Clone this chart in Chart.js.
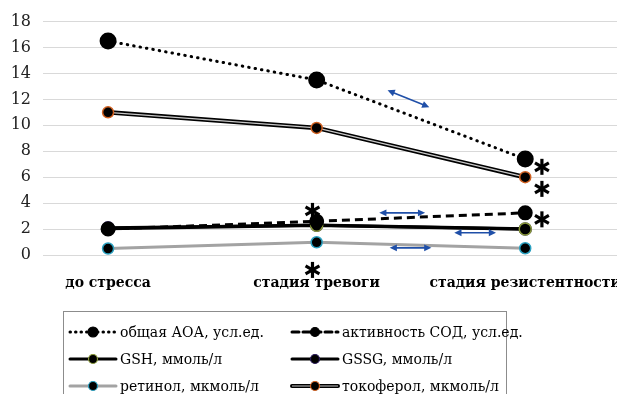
<!DOCTYPE html>
<html>
<head>
<meta charset="utf-8">
<script src="https://cdn.jsdelivr.net/npm/chart.js@4"></script>
<style>
  body { margin: 0; background: #fff; }
  #wrap { position: relative; width: 617px; height: 394px; overflow: hidden; }
  #legend {
    position: absolute; left: 63px; top: 311px; width: 442px; height: 100px;
    border: 1px solid #8c8c8c; background: #fff;
    font-family: "DejaVu Serif", "Liberation Serif", serif; font-size: 14px; color: #000;
  }
  .item { position: absolute; display: flex; align-items: center; height: 20px; white-space: nowrap; }
  .item svg { margin-right: 2px; }
</style>
</head>
<body>
<div id="wrap">
  <canvas id="myChart" width="617" height="394"></canvas>
  <div id="legend"></div>
</div>
<script>
// данные
const stadii = ['до стресса', 'стадия тревоги', 'стадия резистентности'];
const aoa = [16.5, 13.5, 7.4];
const sod = [2.0, 2.6, 3.25];
const gsh = [2.05, 2.3, 2.0];
const gssg = [2.1, 2.3, 2.0];
const retinol = [0.5, 0.98, 0.52];
const tokoferol = [11.0, 9.8, 6.0];
const yTicks = [0, 2, 4, 6, 8, 10, 12, 14, 16, 18];

const legendNames = ['общая АОА, усл.ед.', 'активность СОД, усл.ед.', 'GSH, ммоль/л',
  'GSSG, ммоль/л', 'ретинол, мкмоль/л', 'токоферол, мкмоль/л'];

// звездочки и стрелки (в координатах осей)
const zvezdy = [[0.98, 3.4], [0.98, -1.15], [2.08, 6.8], [2.08, 5.1], [2.08, 2.75]];
const strelki = [[1.34, 12.7, 1.54, 11.4], [1.3, 3.25, 1.52, 3.25],
  [1.66, 1.72, 1.86, 1.72], [1.35, 0.55, 1.55, 0.55]];

const serif = '"DejaVu Serif", "Liberation Serif", serif';

const pts = arr => arr.map((v, i) => ({ x: i, y: v }));

const annotacii = {
  id: 'annotacii',
  afterDraw(chart) {
    const ctx = chart.ctx;
    const xs = chart.scales.x, ys = chart.scales.y;
    ctx.save();
    // стрелки
    ctx.strokeStyle = '#1f4fa8';
    ctx.fillStyle = '#1f4fa8';
    ctx.lineWidth = 1.6;
    strelki.forEach(s => {
      const x1 = xs.getPixelForValue(s[0]), y1 = ys.getPixelForValue(s[1]);
      const x2 = xs.getPixelForValue(s[2]), y2 = ys.getPixelForValue(s[3]);
      const a = Math.atan2(y2 - y1, x2 - x1);
      ctx.beginPath();
      ctx.moveTo(x1 + 5 * Math.cos(a), y1 + 5 * Math.sin(a));
      ctx.lineTo(x2 - 5 * Math.cos(a), y2 - 5 * Math.sin(a));
      ctx.stroke();
      [[x2, y2, a], [x1, y1, a + Math.PI]].forEach(h => {
        ctx.beginPath();
        ctx.moveTo(h[0], h[1]);
        ctx.lineTo(h[0] - 8 * Math.cos(h[2] - 0.45), h[1] - 8 * Math.sin(h[2] - 0.45));
        ctx.lineTo(h[0] - 8 * Math.cos(h[2] + 0.45), h[1] - 8 * Math.sin(h[2] + 0.45));
        ctx.closePath();
        ctx.fill();
      });
    });
    // звездочки
    ctx.strokeStyle = '#000';
    ctx.lineWidth = 3.2;
    zvezdy.forEach(z => {
      const cx = xs.getPixelForValue(z[0]), cy = ys.getPixelForValue(z[1]);
      [90, 30, 150].forEach(d => {
        const r = d * Math.PI / 180;
        ctx.beginPath();
        ctx.moveTo(cx - 8 * Math.cos(r), cy - 8 * Math.sin(r));
        ctx.lineTo(cx + 8 * Math.cos(r), cy + 8 * Math.sin(r));
        ctx.stroke();
      });
    });
    ctx.restore();
  }
};

const ctx = document.getElementById('myChart');

new Chart(ctx, {
  type: 'line',
  data: {
    datasets: [
      { label: legendNames[0], data: pts(aoa), borderColor: '#000', borderWidth: 3,
        borderDash: [0.5, 6], borderCapStyle: 'round', pointRadius: 7,
        pointBackgroundColor: '#000', pointBorderColor: '#000', order: 1 },
      { label: legendNames[1], data: pts(sod), borderColor: '#000', borderWidth: 3,
        borderDash: [8, 5], pointRadius: 6,
        pointBackgroundColor: '#000', pointBorderColor: '#000', order: 2 },
      { label: legendNames[2], data: pts(gsh), borderColor: '#000', borderWidth: 3.5,
        pointRadius: 6, pointBorderWidth: 1.5,
        pointBackgroundColor: '#000', pointBorderColor: '#8a9a3a', order: 3 },
      { label: legendNames[3], data: pts(gssg), borderColor: '#000', borderWidth: 3,
        pointRadius: 6, pointBorderWidth: 1.5,
        pointBackgroundColor: '#000', pointBorderColor: '#2a1a5a', order: 3 },
      { label: legendNames[4], data: pts(retinol), borderColor: '#a3a3a3', borderWidth: 3,
        pointRadius: 5.5, pointBorderWidth: 1.5,
        pointBackgroundColor: '#000', pointBorderColor: '#2aa0c0', order: 4 },
      // токоферол: двойная линия + точки сверху
      { label: legendNames[5], data: pts(tokoferol), borderColor: '#000', borderWidth: 4.5,
        pointRadius: 0, order: 7 },
      { label: 'tok-inner', data: pts(tokoferol), borderColor: '#c8c8c8', borderWidth: 1.3,
        pointRadius: 0, order: 6 },
      { label: 'tok-points', data: pts(tokoferol), showLine: false, pointRadius: 5.5,
        pointBorderWidth: 1.5, pointBackgroundColor: '#000', pointBorderColor: '#d06020', order: 0 }
    ]
  },
  options: {
    responsive: false,
    animation: false,
    layout: { autoPadding: false, padding: { top: 20, bottom: 60, left: 0, right: 0 } },
    plugins: { legend: { display: false }, tooltip: { enabled: false } },
    scales: {
      x: {
        type: 'linear', min: -0.312, max: 2.44,
        afterBuildTicks: s => { s.ticks = stadii.map((n, i) => ({ value: i })); },
        afterFit: s => { s.height = 79; s.paddingLeft = 0; s.paddingRight = 0; },
        grid: { display: false },
        border: { display: false },
        ticks: {
          autoSkip: false, maxRotation: 0, padding: 12, color: '#000',
          font: { family: serif, size: 14, weight: 'bold' },
          callback: v => stadii[v]
        }
      },
      y: {
        min: 0, max: 18,
        afterBuildTicks: s => { s.ticks = yTicks.map(v => ({ value: v })); },
        afterFit: s => { s.width = 43; },
        grid: { color: '#d9d9d9', drawTicks: false },
        border: { display: false },
        ticks: {
          padding: 12, color: '#222',
          font: { family: serif, size: 16 }
        }
      }
    }
  },
  plugins: [annotacii]
});

// легенда
const legendStyles = [
  { dash: '0.5,5', w: 3, col: '#000', r: 5, pb: '#000' },
  { dash: '7,4', w: 3, col: '#000', r: 4.5, pb: '#000' },
  { dash: '', w: 3, col: '#000', r: 4.5, pb: '#8a9a3a' },
  { dash: '', w: 3, col: '#000', r: 4.5, pb: '#2a1a5a' },
  { dash: '', w: 3, col: '#a3a3a3', r: 4.5, pb: '#2aa0c0' },
  { dash: '', w: 4, col: '#000', r: 4.5, pb: '#d06020', inner: true }
];
const leg = document.getElementById('legend');
legendNames.forEach((n, i) => {
  const s = legendStyles[i];
  const row = Math.floor(i / 2), col = i % 2;
  const d = document.createElement('div');
  d.className = 'item';
  d.style.left = (col === 0 ? 4 : 226) + 'px';
  d.style.top = (10 + row * 27) + 'px';
  d.innerHTML = `<svg width="50" height="14">
    <line x1="2" y1="7" x2="48" y2="7" stroke="${s.col}" stroke-width="${s.w}" stroke-linecap="round" ${s.dash ? `stroke-dasharray="${s.dash}"` : ''}/>
    ${s.inner ? '<line x1="2" y1="7" x2="48" y2="7" stroke="#c8c8c8" stroke-width="1.2"/>' : ''}
    <circle cx="25" cy="7" r="${s.r}" fill="#000" stroke="${s.pb}" stroke-width="1.2"/>
  </svg><span>${n}</span>`;
  leg.appendChild(d);
});
</script>
</body>
</html>
